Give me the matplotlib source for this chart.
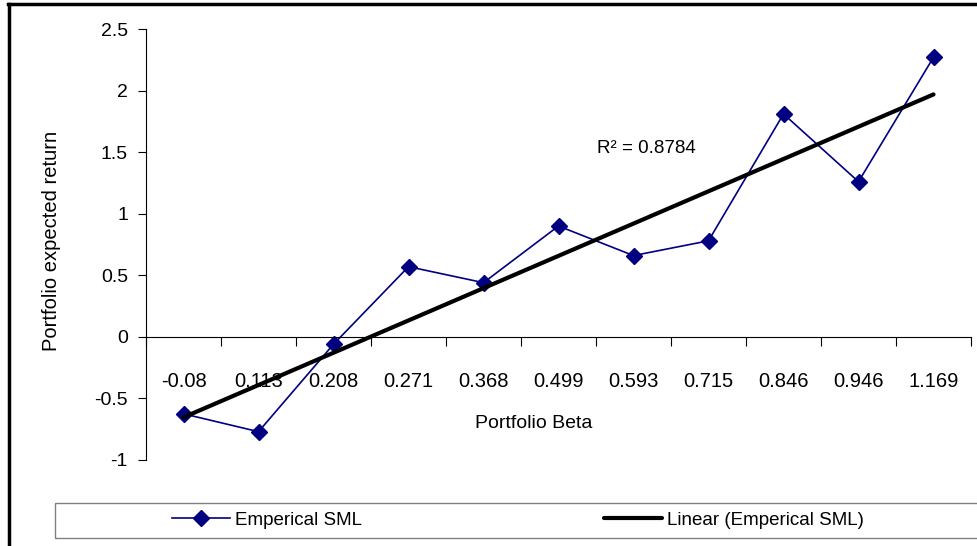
import matplotlib.pyplot as plt
import numpy as np
from matplotlib.lines import Line2D
from matplotlib.patches import Rectangle

plt.rcParams['font.family'] = ['Liberation Sans', 'DejaVu Sans']

# portfolio betas (categories) and expected returns
betas = ['-0.08', '0.113', '0.208', '0.271', '0.368', '0.499',
         '0.593', '0.715', '0.846', '0.946', '1.169']
returns = [-0.625, -0.77, -0.06, 0.57, 0.44, 0.90, 0.66, 0.78, 1.81, 1.26, 2.27]
r2_text = 'R\u00b2 = 0.8784'

W, H = 977, 546
fig = plt.figure(figsize=(W / 100, H / 100), dpi=100)
ax = fig.add_axes([146 / W, 1 - 460 / H, (971 - 146) / W, (460 - 29) / H])

x = np.arange(1, len(betas) + 1)
ax.plot(x, returns, color='#000080', lw=1.2, marker='D', ms=8.5,
        label='Emperical SML')
slope, icpt = np.polyfit(x, returns, 1)
ax.plot([x[0], x[-1]], [slope * x[0] + icpt, slope * x[-1] + icpt],
        color='black', lw=3, solid_capstyle='round',
        label='Linear (Emperical SML)')

ax.set_xlim(0.5, len(betas) + 0.5)
ax.set_ylim(-1, 2.5)
ax.set_yticks([-1, -0.5, 0, 0.5, 1, 1.5, 2, 2.5])
ax.set_yticklabels(['-1', '-0.5', '0', '0.5', '1', '1.5', '2', '2.5'])

ax.spines['top'].set_visible(False)
ax.spines['right'].set_visible(False)
ax.spines['bottom'].set_position(('data', 0))
ax.spines['left'].set_linewidth(0.8)
ax.spines['bottom'].set_linewidth(0.8)

ax.set_xticks(x)
ax.set_xticklabels(betas, fontsize=14.5)
ax.set_xticks(np.arange(0.5, len(betas) + 1, 1), minor=True)
ax.tick_params(axis='x', which='major', length=0, pad=25)
ax.tick_params(axis='x', which='minor', direction='out', length=6.5, width=0.8)
ax.tick_params(axis='y', direction='out', length=6, width=0.8, labelsize=14, pad=7)

ax.text(6.51, 1.53, r2_text, fontsize=13.5, va='center', ha='left')

fig.text(534 / W, 1 - 424 / H, 'Portfolio Beta', fontsize=14, ha='center', va='center')
fig.text(52 / W, 1 - 241 / H, 'Portfolio expected return', fontsize=14.5,
         rotation=90, ha='center', va='center')

# legend box
fig.add_artist(Rectangle((55 / W, 1 - 538 / H), 940 / W, 35 / H,
                         transform=fig.transFigure, fill=False,
                         edgecolor='#808080', lw=1))
fig.legend(loc='center left', bbox_to_anchor=(172 / W, 1 - 520 / H),
           ncol=2, frameon=False, fontsize=13.5, handlelength=3.1,
           handletextpad=0.27, columnspacing=12.9, borderpad=0, borderaxespad=0)

# outer frame lines
fig.add_artist(Line2D([8 / W, 1], [1 - 3.5 / H, 1 - 3.5 / H], color='black', lw=2.5))
fig.add_artist(Line2D([8.5 / W, 8.5 / W], [0, 1 - 3.5 / H], color='black', lw=2.5))

fig.savefig('out.png', dpi=100)
